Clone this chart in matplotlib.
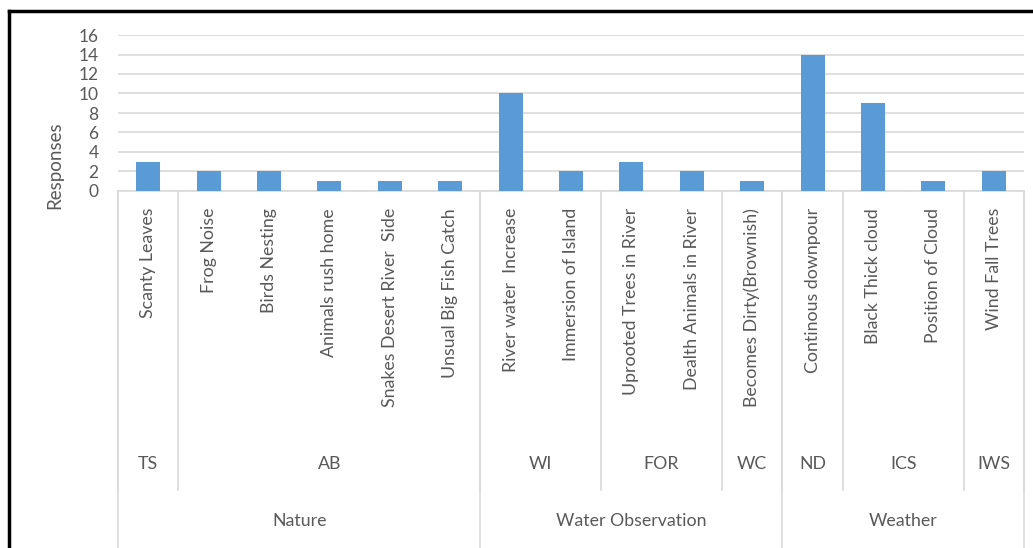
import matplotlib.pyplot as plt
from matplotlib.lines import Line2D

# data
items = ['Scanty Leaves', 'Frog Noise', 'Birds Nesting', 'Animals rush home',
         'Snakes Desert River  Side', 'Unsual Big Fish Catch',
         'River water  Increase', 'Immersion of Island',
         'Uprooted Trees in River', 'Dealth Animals in River',
         'Becomes Dirty(Brownish)', 'Continous downpour',
         'Black Thick cloud', 'Position of Cloud', 'Wind Fall Trees']
responses = [3, 2, 2, 1, 1, 1, 10, 2, 3, 2, 1, 14, 9, 1, 2]

sub_groups = ['TS', 'AB', 'WI', 'FOR', 'WC', 'ND', 'ICS', 'IWS']
sub_sizes = [1, 5, 2, 2, 1, 1, 2, 1]
main_groups = ['Nature', 'Water Observation', 'Weather']
main_sizes = [6, 5, 4]

plt.rcParams['font.family'] = ['Lato', 'DejaVu Sans']
txt = '#595959'
grid = '#D9D9D9'
W, H = 1033, 548

fig = plt.figure(figsize=(W / 100, H / 100), dpi=100)
x0, x1, ytop, ybot = 118, 1024, 35, 191
ax = fig.add_axes([x0 / W, 1 - ybot / H, (x1 - x0) / W, (ybot - ytop) / H])

x = range(len(items))
ax.bar(x, responses, width=0.4, color='#5B9BD5', zorder=3)
ax.set_xlim(-0.5, len(items) - 0.5)
ax.set_ylim(0, 16)
ax.set_yticks(range(0, 17, 2))
ax.yaxis.grid(True, color=grid, lw=1.2, zorder=0)
ax.tick_params(axis='y', length=0, labelsize=12.5, labelcolor=txt, pad=14)
ax.set_xticks([])
for s in ['top', 'right', 'left']:
    ax.spines[s].set_visible(False)
ax.spines['bottom'].set_color(grid)
ax.spines['bottom'].set_linewidth(1.2)

tr = ax.get_xaxis_transform()
ppx = ybot - ytop  # pixels per axes unit (vertical)


def fy(py):
    return -(py - ybot) / ppx


# category labels
for i, name in enumerate(items):
    ax.text(i, fy(208), name, rotation=90, ha='center', va='top',
            fontsize=12.8, color=txt, transform=tr, clip_on=False)

# level-2 groups
pos = -0.5
for name, n in zip(sub_groups, sub_sizes):
    ax.text(pos + n / 2, fy(464), name, ha='center', va='center',
            fontsize=12.8, color=txt, transform=tr, clip_on=False)
    ax.plot([pos, pos], [0, fy(490)], color=grid, lw=1.2, transform=tr, clip_on=False)
    pos += n
ax.plot([pos, pos], [0, fy(490)], color=grid, lw=1.2, transform=tr, clip_on=False)

# level-3 groups
pos = -0.5
for name, n in zip(main_groups, main_sizes):
    ax.text(pos + n / 2, fy(521), name, ha='center', va='center',
            fontsize=12.8, color=txt, transform=tr, clip_on=False)
    ax.plot([pos, pos], [0, fy(560)], color=grid, lw=1.2, transform=tr, clip_on=False)
    pos += n
ax.plot([pos, pos], [0, fy(560)], color=grid, lw=1.2, transform=tr, clip_on=False)

fig.text(55 / W, 1 - 165 / H, 'Responses', rotation=90, ha='center', va='center',
         fontsize=13.5, color=txt)

# black frame around the picture
fig.add_artist(Line2D([9 / W, 1], [1 - 11 / H, 1 - 11 / H], color='black', lw=2.5))
fig.add_artist(Line2D([9 / W, 9 / W], [0, 1 - 11 / H], color='black', lw=2.5))

fig.savefig('out.png', dpi=100)
